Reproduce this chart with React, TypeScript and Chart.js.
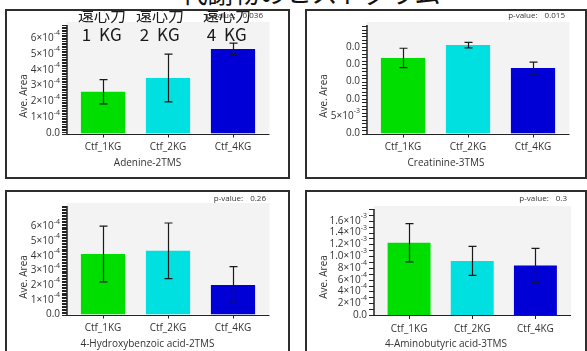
import React, { useEffect, useRef } from "react";
import { Chart, registerables } from "chart.js";

Chart.register(...registerables);

// ---- data ----
const CATEGORIES = ["Ctf_1KG", "Ctf_2KG", "Ctf_4KG"];
const BAR_COLORS = ["rgb(0,222,0)", "rgb(0,224,224)", "rgb(0,0,214)"];
const CENTRIFUGE_LABELS = ["1 KG", "2 KG", "4 KG"];
const CENTRIFUGE_WORD = "遠心力";
const PAGE_TITLE = "代謝物のヒストグラム";

const METABOLITES = [
  "Adenine-2TMS",
  "Creatinine-3TMS",
  "4-Hydroxybenzoic acid-2TMS",
  "4-Aminobutyric acid-3TMS",
];
const P_VALUES = ["0.036", "0.015", "0.26", "0.3"];

const ADENINE_MEAN = [2.62e-4, 3.48e-4, 5.3e-4];
const ADENINE_SD = [0.76e-4, 1.5e-4, 0.37e-4];
const ADENINE_TICKS = ["0.0", "1×10^-4", "2×10^-4", "3×10^-4", "4×10^-4", "5×10^-4", "6×10^-4"];

const CREATININE_MEAN = [0.0218, 0.0255, 0.0189];
const CREATININE_SD = [0.0028, 0.0008, 0.0017];
const CREATININE_TICKS = ["0.0", "5×10^-3", "0.0", "0.0", "0.0", "0.0"];

const HYDROXYBENZOIC_MEAN = [4.13e-4, 4.34e-4, 2.01e-4];
const HYDROXYBENZOIC_SD = [1.9e-4, 1.9e-4, 1.25e-4];
const HYDROXYBENZOIC_TICKS = ["0.0", "1×10^-4", "2×10^-4", "3×10^-4", "4×10^-4", "5×10^-4", "6×10^-4"];

const AMINOBUTYRIC_MEAN = [1.226e-3, 0.919e-3, 0.839e-3];
const AMINOBUTYRIC_SD = [0.325e-3, 0.245e-3, 0.293e-3];
const AMINOBUTYRIC_TICKS = [
  "0.0", "2×10^-4", "4×10^-4", "6×10^-4", "8×10^-4",
  "1.0×10^-3", "1.2×10^-3", "1.4×10^-3", "1.6×10^-3",
];

// ---- panel layout ----
type Area = { left: number; right: number; top: number; bottom: number };
type PanelSpec = {
  box: { left: number; top: number; width: number; height: number };
  area: Area;
  yMax: number;
  yStep: number;
  minorStep: number;
  pvalY: number;
  pvalRight: number;
  means: number[];
  sds: number[];
  tickLabels: string[];
  metabolite: string;
  pValue: string;
};

const PANELS: PanelSpec[] = [
  {
    box: { left: 5, top: 9, width: 285, height: 170 },
    area: { left: 63.5, right: 258.5, top: 14, bottom: 122.5 },
    yMax: 6.8e-4, yStep: 1e-4, minorStep: 1e-5,
    pvalY: 5, pvalRight: 256,
    means: ADENINE_MEAN, sds: ADENINE_SD, tickLabels: ADENINE_TICKS,
    metabolite: METABOLITES[0], pValue: P_VALUES[0],
  },
  {
    box: { left: 305, top: 9, width: 282, height: 170 },
    area: { left: 63.5, right: 258.5, top: 14, bottom: 122.5 },
    yMax: 0.0313, yStep: 0.005, minorStep: 0.001,
    pvalY: 5, pvalRight: 258,
    means: CREATININE_MEAN, sds: CREATININE_SD, tickLabels: CREATININE_TICKS,
    metabolite: METABOLITES[1], pValue: P_VALUES[1],
  },
  {
    box: { left: 5, top: 190, width: 285, height: 170 },
    area: { left: 63.5, right: 258.5, top: 14, bottom: 122.5 },
    yMax: 7.4e-4, yStep: 1e-4, minorStep: 1e-5,
    pvalY: 7, pvalRight: 259,
    means: HYDROXYBENZOIC_MEAN, sds: HYDROXYBENZOIC_SD, tickLabels: HYDROXYBENZOIC_TICKS,
    metabolite: METABOLITES[2], pValue: P_VALUES[2],
  },
  {
    box: { left: 305, top: 190, width: 282, height: 170 },
    area: { left: 70.5, right: 260, top: 17, bottom: 123 },
    yMax: 1.8e-3, yStep: 2e-4, minorStep: 1e-4,
    pvalY: 7, pvalRight: 260,
    means: AMINOBUTYRIC_MEAN, sds: AMINOBUTYRIC_SD, tickLabels: AMINOBUTYRIC_TICKS,
    metabolite: METABOLITES[3], pValue: P_VALUES[3],
  },
];

const BORDER = 2;
const FONT = "'Open Sans', 'DejaVu Sans', sans-serif";
const TEXT = "#333";

// draws "6×10^-4" style labels with a raised exponent, right-aligned
function drawSciLabel(ctx: CanvasRenderingContext2D, text: string, rightX: number, y: number) {
  const [base, exp] = text.split("^");
  ctx.textBaseline = "middle";
  if (!exp) {
    ctx.font = `10px ${FONT}`;
    ctx.textAlign = "right";
    ctx.fillText(base, rightX, y);
    return;
  }
  ctx.font = `7px ${FONT}`;
  const ew = ctx.measureText(exp).width;
  ctx.textAlign = "left";
  ctx.fillText(exp, rightX - ew, y - 5);
  ctx.font = `10px ${FONT}`;
  ctx.textAlign = "right";
  ctx.fillText(base, rightX - ew, y);
}

function Panel({ spec }: { spec: PanelSpec }) {
  const ref = useRef<HTMLCanvasElement | null>(null);
  const W = spec.box.width - BORDER * 2;
  const H = spec.box.height - BORDER * 2;

  useEffect(() => {
    const canvas = ref.current;
    if (!canvas) return;
    const { area } = spec;

    const decor = {
      id: "panelDecor",
      beforeDraw(chart: any) {
        const { ctx, chartArea: a } = chart;
        ctx.save();
        ctx.fillStyle = "#f3f3f3";
        ctx.fillRect(a.left - 4, a.top - 3, a.right - a.left + 8, a.bottom - a.top + 3);
        ctx.restore();
      },
      afterDatasetsDraw(chart: any) {
        const { ctx, chartArea: a } = chart;
        const ys = chart.scales.y;
        const axisX = Math.round(a.left - 4);
        ctx.save();

        // error bars (mean ± sd)
        const meta = chart.getDatasetMeta(0);
        ctx.strokeStyle = "#1a1a1a";
        ctx.lineWidth = 1.2;
        meta.data.forEach((el: any, i: number) => {
          const x = Math.round(el.x) + 0.5;
          const hi = ys.getPixelForValue(spec.means[i] + spec.sds[i]);
          const lo = ys.getPixelForValue(spec.means[i] - spec.sds[i]);
          ctx.beginPath();
          ctx.moveTo(x, hi);
          ctx.lineTo(x, lo);
          ctx.moveTo(x - 4, hi);
          ctx.lineTo(x + 4, hi);
          ctx.moveTo(x - 4, lo);
          ctx.lineTo(x + 4, lo);
          ctx.stroke();
        });

        // axis lines
        ctx.strokeStyle = "#222";
        ctx.lineWidth = 1;
        ctx.beginPath();
        ctx.moveTo(axisX, Math.round(a.bottom) + 0.5);
        ctx.lineTo(a.right + 4, Math.round(a.bottom) + 0.5);
        ctx.stroke();
        ctx.lineWidth = 1.5;
        ctx.beginPath();
        ctx.moveTo(axisX, a.top);
        ctx.lineTo(axisX, a.bottom + 1);
        ctx.stroke();

        // minor tick comb on the value axis
        ctx.lineWidth = 1;
        const n = Math.floor(spec.yMax / spec.minorStep + 1e-6);
        ctx.beginPath();
        for (let k = 0; k <= n; k++) {
          const y = Math.round(ys.getPixelForValue(k * spec.minorStep)) + 0.5;
          ctx.moveTo(axisX - 5, y);
          ctx.lineTo(axisX, y);
        }
        ctx.stroke();

        // value labels
        ctx.fillStyle = TEXT;
        spec.tickLabels.forEach((lab, i) => {
          drawSciLabel(ctx, lab, axisX - 7, ys.getPixelForValue(i * spec.yStep));
        });

        // axis titles
        ctx.font = `10px ${FONT}`;
        ctx.textAlign = "center";
        ctx.textBaseline = "middle";
        ctx.fillText(spec.metabolite, chart.width / 2, 152);
        ctx.save();
        ctx.translate(17, 85);
        ctx.rotate(-Math.PI / 2);
        ctx.fillText("Ave. Area", 0, 0);
        ctx.restore();

        // p-value note
        ctx.font = `8px ${FONT}`;
        ctx.textAlign = "right";
        ctx.fillText(spec.pValue, spec.pvalRight, spec.pvalY);
        const vw = ctx.measureText(spec.pValue).width;
        ctx.fillText("p-value:", spec.pvalRight - vw - 7, spec.pvalY);

        ctx.restore();
      },
    };

    const chart = new Chart(canvas, {
      type: "bar",
      data: {
        labels: CATEGORIES,
        datasets: [
          {
            data: spec.means,
            backgroundColor: BAR_COLORS,
            borderWidth: 0,
            categoryPercentage: 1,
            barPercentage: 0.68,
          },
        ],
      },
      options: {
        responsive: false,
        animation: false,
        devicePixelRatio: 1,
        layout: { padding: { left: 0, top: area.top, right: W - area.right, bottom: 0 } },
        plugins: {
          legend: { display: false },
          tooltip: { enabled: false },
          title: { display: false },
        },
        scales: {
          x: {
            type: "category",
            offset: true,
            grid: {
              display: true,
              drawOnChartArea: false,
              drawTicks: true,
              tickLength: 4,
              color: "#222",
              offset: false,
            },
            border: { display: false },
            ticks: {
              font: { family: FONT, size: 10 },
              color: TEXT,
              padding: 4,
              maxRotation: 0,
              autoSkip: false,
            },
            afterFit: (s: any) => {
              s.height = H - area.bottom;
            },
          },
          y: {
            min: 0,
            max: spec.yMax,
            grid: { display: false, drawTicks: false },
            border: { display: false },
            ticks: { display: false, stepSize: spec.yStep },
            afterFit: (s: any) => {
              s.width = area.left;
            },
          },
        },
      } as any,
      plugins: [decor],
    });
    return () => chart.destroy();
  }, [spec, W, H]);

  return (
    <div
      style={{
        position: "absolute",
        left: spec.box.left,
        top: spec.box.top,
        width: spec.box.width,
        height: spec.box.height,
        boxSizing: "border-box",
        border: `${BORDER}px solid #2e2e2e`,
        background: "#fff",
      }}
    >
      <canvas ref={ref} width={W} height={H} style={{ display: "block", width: W, height: H }} />
    </div>
  );
}

const CJK = "'Noto Sans CJK JP', 'Noto Sans', sans-serif";
const LABEL_CENTERS = [102, 160, 227];

export default function App() {
  const p1 = PANELS[0];
  const innerLeft = p1.box.left + BORDER;
  const innerTop = p1.box.top + BORDER;
  return (
    <div
      style={{
        position: "fixed",
        left: 0,
        top: 0,
        width: 587,
        height: 351,
        overflow: "hidden",
        background: "#fff",
      }}
    >
      {PANELS.map((p, i) => (
        <Panel key={i} spec={p} />
      ))}

      <div
        style={{
          position: "absolute",
          left: 130,
          width: 362,
          top: -21,
          textAlign: "center",
          whiteSpace: "nowrap",
          fontFamily: CJK,
          fontSize: 26,
          lineHeight: "26px",
          color: "#111",
        }}
      >
        {PAGE_TITLE}
      </div>

      <div
        style={{
          position: "absolute",
          left: innerLeft,
          top: innerTop,
          width: p1.box.width - BORDER * 2,
          height: p1.box.height - BORDER * 2,
          overflow: "hidden",
          pointerEvents: "none",
        }}
      >
        {CENTRIFUGE_LABELS.map((lab, i) => (
          <React.Fragment key={i}>
            <div
              style={{
                position: "absolute",
                left: LABEL_CENTERS[i] - innerLeft - 40,
                width: 80,
                top: 5.5 - innerTop,
                textAlign: "center",
                fontFamily: CJK,
                fontSize: 16,
                lineHeight: "16px",
                color: "#1a1a1a",
                whiteSpace: "nowrap",
              }}
            >
              {CENTRIFUGE_WORD}
            </div>
            <div
              style={{
                position: "absolute",
                left: LABEL_CENTERS[i] - innerLeft - 40,
                width: 80,
                top: 25 - innerTop,
                textAlign: "center",
                fontFamily: CJK,
                fontSize: 17,
                lineHeight: "17px",
                wordSpacing: 3,
                letterSpacing: 0.5,
                color: "#1a1a1a",
                whiteSpace: "nowrap",
              }}
            >
              {lab}
            </div>
          </React.Fragment>
        ))}
      </div>
    </div>
  );
}
